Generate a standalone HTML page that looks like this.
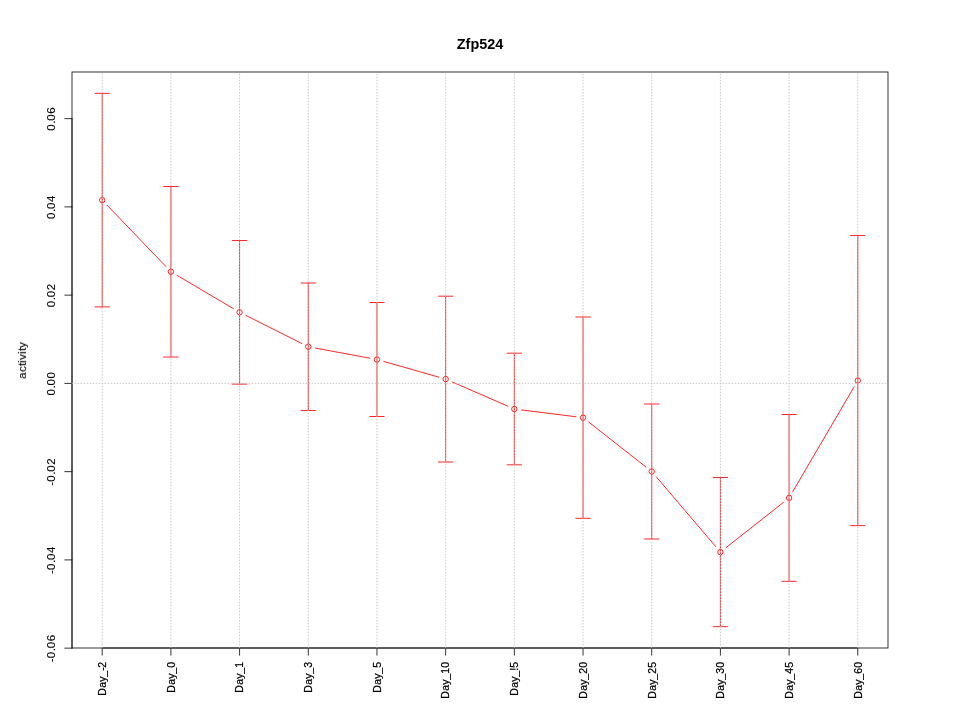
<!DOCTYPE html><html><head><meta charset="utf-8"><style>html,body{margin:0;padding:0;background:#fff;}svg{display:block}text{font-family:"Liberation Sans",sans-serif;}</style></head><body>
<svg width="960" height="720" viewBox="0 0 960 720">
<rect x="0" y="0" width="960" height="720" fill="#fff"/>
<path d="M102.22 306.90V93.33 M95.02 93.33H109.42 M95.02 306.90H109.42 M170.91 357.00V186.50 M163.71 186.50H178.11 M163.71 357.00H178.11 M239.59 384.10V240.50 M232.39 240.50H246.79 M232.39 384.10H246.79 M308.28 410.50V283.00 M301.08 283.00H315.48 M301.08 410.50H315.48 M376.97 416.50V302.50 M369.77 302.50H384.17 M369.77 416.50H384.17 M445.65 462.00V296.20 M438.45 296.20H452.85 M438.45 462.00H452.85 M514.34 464.80V353.20 M507.14 353.20H521.54 M507.14 464.80H521.54 M583.03 518.30V317.00 M575.83 317.00H590.23 M575.83 518.30H590.23 M651.72 539.00V404.00 M644.52 404.00H658.92 M644.52 539.00H658.92 M720.40 626.67V477.50 M713.20 477.50H727.60 M713.20 626.67H727.60 M789.09 581.30V414.50 M781.89 414.50H796.29 M781.89 581.30H796.29 M857.78 525.60V235.50 M850.58 235.50H864.98 M850.58 525.60H864.98 M107.20 205.31L165.92 266.55 M177.11 275.41L233.39 308.64 M246.03 315.53L301.85 343.52 M315.36 348.06L369.89 358.19 M383.89 361.48L438.73 377.12 M452.26 381.97L507.74 406.13 M521.49 409.90L575.89 416.75 M588.70 422.09L646.05 467.06 M656.39 476.98L715.73 546.61 M726.06 547.63L783.44 502.36 M792.73 491.69L854.14 386.76" stroke="#ff0000" stroke-width="0.85" fill="none" stroke-linecap="round"/>
<circle cx="102.22" cy="200.11" r="2.7" stroke="#ff0000" stroke-width="0.85" fill="none"/>
<circle cx="170.91" cy="271.75" r="2.7" stroke="#ff0000" stroke-width="0.85" fill="none"/>
<circle cx="239.59" cy="312.30" r="2.7" stroke="#ff0000" stroke-width="0.85" fill="none"/>
<circle cx="308.28" cy="346.75" r="2.7" stroke="#ff0000" stroke-width="0.85" fill="none"/>
<circle cx="376.97" cy="359.50" r="2.7" stroke="#ff0000" stroke-width="0.85" fill="none"/>
<circle cx="445.65" cy="379.10" r="2.7" stroke="#ff0000" stroke-width="0.85" fill="none"/>
<circle cx="514.34" cy="409.00" r="2.7" stroke="#ff0000" stroke-width="0.85" fill="none"/>
<circle cx="583.03" cy="417.65" r="2.7" stroke="#ff0000" stroke-width="0.85" fill="none"/>
<circle cx="651.72" cy="471.50" r="2.7" stroke="#ff0000" stroke-width="0.85" fill="none"/>
<circle cx="720.40" cy="552.09" r="2.7" stroke="#ff0000" stroke-width="0.85" fill="none"/>
<circle cx="789.09" cy="497.90" r="2.7" stroke="#ff0000" stroke-width="0.85" fill="none"/>
<circle cx="857.78" cy="380.55" r="2.7" stroke="#ff0000" stroke-width="0.85" fill="none"/>
<rect x="72" y="72" width="816" height="576" stroke="#000" stroke-width="0.8" fill="none"/>
<path d="M102.22 648H857.78 M102.22 648V655.2 M170.91 648V655.2 M239.59 648V655.2 M308.28 648V655.2 M376.97 648V655.2 M445.65 648V655.2 M514.34 648V655.2 M583.03 648V655.2 M651.72 648V655.2 M720.40 648V655.2 M789.09 648V655.2 M857.78 648V655.2 M72 648.15V118.65 M72 118.65H64.8 M72 206.90H64.8 M72 295.15H64.8 M72 383.40H64.8 M72 471.65H64.8 M72 559.90H64.8 M72 648.15H64.8" stroke="#000" stroke-width="0.8" fill="none" stroke-linecap="round"/>
<path d="M102.22 648V72 M170.91 648V72 M239.59 648V72 M308.28 648V72 M376.97 648V72 M445.65 648V72 M514.34 648V72 M583.03 648V72 M651.72 648V72 M720.40 648V72 M789.09 648V72 M857.78 648V72 M72 383.40H888" stroke="#bebebe" stroke-width="0.85" stroke-dasharray="0.75 2.25" fill="none" stroke-linecap="round"/>
<g style="will-change:transform" stroke="#000">
<text x="480" y="48.5" font-size="14.4" font-weight="bold" text-anchor="middle" stroke="none">Zfp524</text>
<text transform="translate(54.9 130.65) rotate(-90)" x="0 7 10 17" font-size="11.5" stroke-width="0.1">0.06</text>
<text transform="translate(54.9 218.90) rotate(-90)" x="0 7 10 17" font-size="11.5" stroke-width="0.1">0.04</text>
<text transform="translate(54.9 307.15) rotate(-90)" x="0 7 10 17" font-size="11.5" stroke-width="0.1">0.02</text>
<text transform="translate(54.9 395.40) rotate(-90)" x="0 7 10 17" font-size="11.5" stroke-width="0.1">0.00</text>
<text transform="translate(54.9 485.65) rotate(-90)" x="0 4 11 14 21" font-size="11.5" stroke-width="0.1">-0.02</text>
<text transform="translate(54.9 573.90) rotate(-90)" x="0 4 11 14 21" font-size="11.5" stroke-width="0.1">-0.04</text>
<text transform="translate(54.9 662.15) rotate(-90)" x="0 4 11 14 21" font-size="11.5" stroke-width="0.1">-0.06</text>
<text transform="translate(26.0 378.85) rotate(-90)" x="0 7 13 16 19 25 28 31" font-size="11.5" stroke-width="0.15">activity</text>
<text transform="translate(106.02 695.80) rotate(-90)" x="0 8 14 19 25 28" font-size="10.5" stroke-width="0.25">Day_-2</text>
<text transform="translate(174.71 692.80) rotate(-90)" x="0 8 14 19 25" font-size="10.5" stroke-width="0.25">Day_0</text>
<text transform="translate(243.39 692.80) rotate(-90)" x="0 8 14 19 25" font-size="10.5" stroke-width="0.25">Day_1</text>
<text transform="translate(312.08 692.80) rotate(-90)" x="0 8 14 19 25" font-size="10.5" stroke-width="0.25">Day_3</text>
<text transform="translate(380.77 692.80) rotate(-90)" x="0 8 14 19 25" font-size="10.5" stroke-width="0.25">Day_5</text>
<text transform="translate(449.45 698.80) rotate(-90)" x="0 8 14 19 25 31" font-size="10.5" stroke-width="0.25">Day_10</text>
<text transform="translate(518.14 695.80) rotate(-90)" x="0 8 14 19 25 28" font-size="10.5" stroke-width="0.25">Day_!5</text>
<text transform="translate(586.83 698.80) rotate(-90)" x="0 8 14 19 25 31" font-size="10.5" stroke-width="0.25">Day_20</text>
<text transform="translate(655.52 698.80) rotate(-90)" x="0 8 14 19 25 31" font-size="10.5" stroke-width="0.25">Day_25</text>
<text transform="translate(724.2 698.80) rotate(-90)" x="0 8 14 19 25 31" font-size="10.5" stroke-width="0.25">Day_30</text>
<text transform="translate(792.89 698.80) rotate(-90)" x="0 8 14 19 25 31" font-size="10.5" stroke-width="0.25">Day_45</text>
<text transform="translate(861.58 698.80) rotate(-90)" x="0 8 14 19 25 31" font-size="10.5" stroke-width="0.25">Day_60</text>
</g>
</svg></body></html>
